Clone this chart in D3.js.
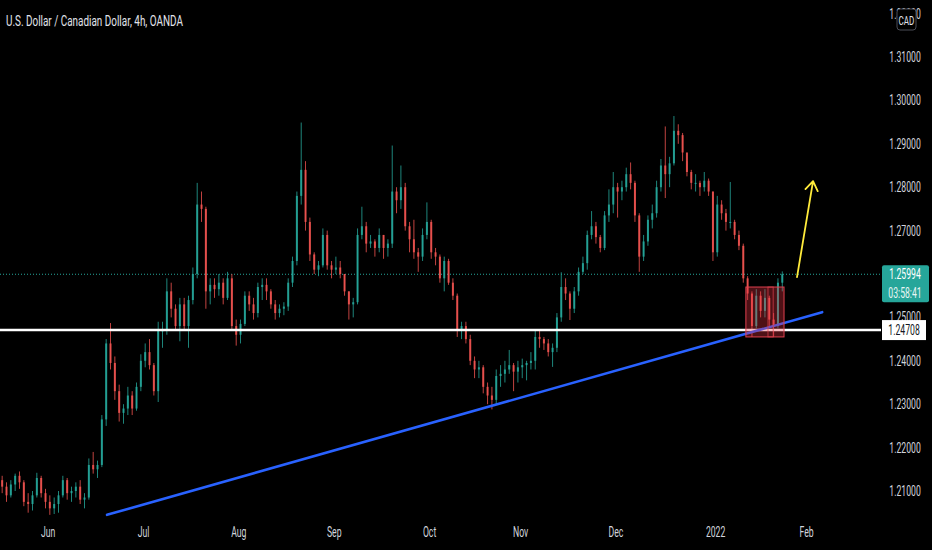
<!DOCTYPE html>
<html><head><meta charset="utf-8">
<script src="https://cdn.jsdelivr.net/npm/d3@7"></script>
<style>html,body{margin:0;padding:0;background:#000;overflow:hidden}svg{display:block}</style>
</head><body>
<svg id="c" width="932" height="550"></svg>
<script>
// ---- data (daily bars; index 0 = 17 May 2021) ----
const firstOpen = 1.2125;
const highs = [1.2135,1.2120,1.2125,1.2140,1.2145,1.2125,1.2095,1.2100,1.2142,1.2135,
1.2105,1.2090,1.2085,1.2100,1.2135,1.2130,1.2110,1.2120,1.2125,1.2095,
1.2175,1.2190,1.2170,1.2275,1.2450,1.2487,1.2410,1.2345,1.2300,1.2340,
1.2330,1.2350,1.2415,1.2440,1.2450,1.2395,1.2490,1.2490,1.2590,1.2580,
1.2530,1.2545,1.2545,1.2550,1.2615,1.2810,1.2790,1.2755,1.2590,1.2590,
1.2600,1.2590,1.2605,1.2600,1.2495,1.2495,1.2560,1.2560,1.2545,1.2580,
1.2590,1.2590,1.2565,1.2540,1.2530,1.2535,1.2590,1.2640,1.2790,1.2949,
1.2860,1.2730,1.2650,1.2630,1.2705,1.2700,1.2630,1.2640,1.2630,1.2600,
1.2560,1.2545,1.2705,1.2755,1.2720,1.2690,1.2680,1.2705,1.2690,1.2680,
1.2896,1.2800,1.2850,1.2810,1.2720,1.2725,1.2660,1.2705,1.2765,1.2725,
1.2660,1.2645,1.2640,1.2635,1.2590,1.2555,1.2490,1.2490,1.2460,1.2410,
1.2400,1.2390,1.2350,1.2340,1.2380,1.2390,1.2400,1.2425,1.2395,1.2400,
1.2405,1.2400,1.2420,1.2472,1.2470,1.2455,1.2450,1.2440,1.2510,1.2604,
1.2590,1.2560,1.2570,1.2615,1.2640,1.2700,1.2745,1.2720,1.2690,1.2745,
1.2795,1.2835,1.2810,1.2815,1.2845,1.2857,1.2815,1.2740,1.2690,1.2735,
1.2760,1.2815,1.2865,1.2940,1.2870,1.2964,1.2945,1.2925,1.2860,1.2840,
1.2830,1.2815,1.2835,1.2820,1.2790,1.2780,1.2770,1.2750,1.2812,1.2725,
1.2700,1.2670,1.2595,1.2560,1.2565,1.2560,1.2565,1.2550,1.2510,1.2590,
1.2606];
const lows = [1.2095,1.2075,1.2085,1.2100,1.2105,1.2065,1.2050,1.2055,1.2085,1.2085,
1.2060,1.2045,1.2047,1.2050,1.2085,1.2080,1.2075,1.2085,1.2070,1.2060,
1.2080,1.2140,1.2130,1.2155,1.2250,1.2380,1.2310,1.2260,1.2255,1.2275,
1.2275,1.2285,1.2330,1.2385,1.2380,1.2320,1.2305,1.2430,1.2460,1.2500,
1.2470,1.2445,1.2470,1.2430,1.2530,1.2590,1.2720,1.2520,1.2530,1.2545,
1.2550,1.2530,1.2540,1.2470,1.2435,1.2440,1.2480,1.2515,1.2495,1.2500,
1.2540,1.2540,1.2520,1.2495,1.2500,1.2505,1.2515,1.2570,1.2620,1.2760,
1.2700,1.2630,1.2600,1.2595,1.2615,1.2610,1.2590,1.2600,1.2590,1.2550,
1.2495,1.2500,1.2530,1.2680,1.2650,1.2660,1.2640,1.2650,1.2635,1.2640,
1.2660,1.2740,1.2750,1.2700,1.2650,1.2635,1.2605,1.2630,1.2680,1.2635,
1.2620,1.2580,1.2560,1.2575,1.2540,1.2455,1.2450,1.2440,1.2390,1.2360,
1.2360,1.2325,1.2300,1.2288,1.2300,1.2340,1.2350,1.2370,1.2330,1.2350,
1.2360,1.2355,1.2380,1.2380,1.2430,1.2425,1.2410,1.2386,1.2420,1.2490,
1.2540,1.2494,1.2510,1.2550,1.2600,1.2610,1.2680,1.2670,1.2650,1.2655,
1.2720,1.2740,1.2730,1.2770,1.2790,1.2795,1.2720,1.2605,1.2630,1.2665,
1.2705,1.2730,1.2790,1.2775,1.2800,1.2850,1.2900,1.2860,1.2825,1.2795,
1.2790,1.2780,1.2790,1.2780,1.2630,1.2640,1.2725,1.2700,1.2705,1.2680,
1.2655,1.2580,1.2540,1.2455,1.2475,1.2500,1.2500,1.2480,1.2455,1.2475,
1.2560];
const closes = [1.2110,1.2090,1.2115,1.2135,1.2120,1.2075,1.2070,1.2090,1.2130,1.2095,
1.2075,1.2060,1.2070,1.2090,1.2125,1.2095,1.2100,1.2110,1.2080,1.2085,
1.2160,1.2150,1.2160,1.2265,1.2440,1.2395,1.2330,1.2280,1.2290,1.2320,
1.2290,1.2340,1.2400,1.2420,1.2390,1.2330,1.2470,1.2470,1.2560,1.2520,
1.2480,1.2530,1.2480,1.2540,1.2600,1.2760,1.2750,1.2560,1.2575,1.2565,
1.2580,1.2545,1.2590,1.2480,1.2460,1.2485,1.2550,1.2530,1.2510,1.2570,
1.2575,1.2560,1.2530,1.2510,1.2520,1.2525,1.2580,1.2630,1.2780,1.2840,
1.2720,1.2645,1.2610,1.2620,1.2690,1.2620,1.2610,1.2615,1.2600,1.2560,
1.2530,1.2535,1.2690,1.2710,1.2670,1.2675,1.2660,1.2690,1.2660,1.2670,
1.2790,1.2770,1.2800,1.2710,1.2680,1.2650,1.2640,1.2690,1.2720,1.2650,
1.2640,1.2590,1.2630,1.2580,1.2550,1.2470,1.2480,1.2450,1.2400,1.2380,
1.2385,1.2340,1.2320,1.2310,1.2365,1.2370,1.2380,1.2390,1.2375,1.2385,
1.2390,1.2395,1.2400,1.2455,1.2450,1.2440,1.2420,1.2430,1.2500,1.2570,
1.2555,1.2520,1.2560,1.2605,1.2625,1.2690,1.2710,1.2685,1.2660,1.2735,
1.2760,1.2800,1.2790,1.2800,1.2830,1.2810,1.2735,1.2640,1.2675,1.2725,
1.2740,1.2800,1.2850,1.2830,1.2855,1.2930,1.2920,1.2880,1.2835,1.2810,
1.2810,1.2800,1.2815,1.2790,1.2650,1.2760,1.2740,1.2720,1.2720,1.2690,
1.2665,1.2590,1.2555,1.2480,1.2550,1.2515,1.2545,1.2495,1.2480,1.2580,
1.25994];
const monthTickIdx = [11,33,55,77,99,120,142,165,186];
const monthLabels = ["Jun","Jul","Aug","Sep","Oct","Nov","Dec","2022","Feb"];
const priceTicks = [1.21,1.22,1.23,1.24,1.25,1.26,1.27,1.28,1.29,1.30,1.31,1.32];
const supportLevel = 1.24708;
const lastPrice = 1.25994;
const countdown = "03:58:41";
const trendLine = [[24.7,1.2045],[189.7,1.2512]];
const zoneBox = {x0:172.1, x1:180.9, p0:1.2455, p1:1.2570, mid0:177.2, mid1:178.4};
const arrowLine = [[183.9,1.2593],[187.6,1.2814]];
const title = "U.S. Dollar / Canadian Dollar, 4h, OANDA";

// ---- build ----
const svg = d3.select("#c");
const W = 932, H = 550, plotRight = 881;
const x = d3.scaleLinear().domain([0, 201.2]).range([0, 872]);
const y = d3.scaleLinear().domain([1.21, 1.31]).range([491, 57]);
const bars = closes.map((c,i)=>({i, o: i===0?firstOpen:closes[i-1], h:highs[i], l:lows[i], c}));
const UP="#26a69a", DN="#ef5350";
const FONT = "Roboto, 'Noto Sans', sans-serif";
const SQ = 0.62;
// horizontal condensing through a transform (keeps real text)
function squeeze(sel,f){ sel.each(function(){
  const t=d3.select(this); const xx=+t.attr("x")||0, yy=+t.attr("y")||0;
  t.attr("x",0).attr("y",0).attr("transform",`translate(${xx},${yy}) scale(${f||SQ},1)`); }); }

svg.append("rect").attr("width",W).attr("height",H).attr("fill","#000");

const plot = svg.append("g");
plot.append("clipPath").attr("id","pc").append("rect").attr("width",plotRight).attr("height",520);
const pg = plot.append("g").attr("clip-path","url(#pc)");

// last price dotted line
pg.append("line").attr("x1",0).attr("x2",plotRight).attr("y1",y(lastPrice)).attr("y2",y(lastPrice))
  .attr("stroke","#26a69a").attr("stroke-width",1).attr("stroke-dasharray","1,2");

// candles
const cg = pg.append("g");
const bw = 2;
cg.selectAll("line.w").data(bars).join("line").attr("class","w")
  .attr("x1",d=>x(d.i+0.5)).attr("x2",d=>x(d.i+0.5))
  .attr("y1",d=>y(d.h)).attr("y2",d=>y(d.l))
  .attr("stroke",d=>d.c>=d.o?UP:DN).attr("stroke-width",0.9).attr("opacity",0.9);
cg.selectAll("rect.b").data(bars).join("rect").attr("class","b")
  .attr("x",d=>x(d.i+0.5)-bw/2).attr("width",bw)
  .attr("y",d=>y(Math.max(d.o,d.c)))
  .attr("height",d=>Math.max(1,Math.abs(y(d.o)-y(d.c))))
  .attr("fill",d=>d.c>=d.o?UP:DN).attr("opacity",0.9);

// support line
pg.append("line").attr("x1",0).attr("x2",plotRight).attr("y1",y(supportLevel)).attr("y2",y(supportLevel))
  .attr("stroke","#ffffff").attr("stroke-width",2.6);

// trend line
pg.append("line").attr("x1",x(trendLine[0][0])).attr("y1",y(trendLine[0][1]))
  .attr("x2",x(trendLine[1][0])).attr("y2",y(trendLine[1][1]))
  .attr("stroke","#2962ff").attr("stroke-width",2.6).attr("stroke-linecap","round");

// zone box
pg.append("rect").attr("x",x(zoneBox.x0)).attr("width",x(zoneBox.x1)-x(zoneBox.x0))
  .attr("y",y(zoneBox.p1)).attr("height",y(zoneBox.p0)-y(zoneBox.p1))
  .attr("fill","rgba(242,54,69,0.32)").attr("stroke","#e0414f").attr("stroke-width",1);
pg.append("rect").attr("x",x(zoneBox.mid0)).attr("width",x(zoneBox.mid1)-x(zoneBox.mid0))
  .attr("y",y(zoneBox.p1)).attr("height",y(zoneBox.p0)-y(zoneBox.p1))
  .attr("fill","none").attr("stroke","rgba(224,65,79,0.7)").attr("stroke-width",1);

// yellow arrow
const ax0=x(arrowLine[0][0]), ay0=y(arrowLine[0][1]), ax1=x(arrowLine[1][0]), ay1=y(arrowLine[1][1]);
const ang=Math.atan2(ay1-ay0, ax1-ax0), hl=11, ha=0.6;
pg.append("path")
  .attr("d",`M${ax0},${ay0}L${ax1},${ay1}M${ax1-hl*Math.cos(ang-ha)},${ay1-hl*Math.sin(ang-ha)}L${ax1},${ay1}L${ax1-hl*Math.cos(ang+ha)},${ay1-hl*Math.sin(ang+ha)}`)
  .attr("fill","none").attr("stroke","#ffeb3b").attr("stroke-width",1.8).attr("stroke-linecap","round").attr("stroke-linejoin","round");

// time axis
const xa = svg.append("g").attr("transform","translate(0,527)")
  .call(d3.axisBottom(x).tickValues(monthTickIdx).tickSize(0).tickPadding(0)
    .tickFormat((d,k)=>monthLabels[k]));
xa.select(".domain").remove();
xa.selectAll("text").attr("fill","#d1d4dc").attr("font-family",FONT).attr("font-size",14).attr("dy","0.71em");
squeeze(xa.selectAll("text"));

// price axis
const ya = svg.append("g").attr("transform","translate(905,0)")
  .call(d3.axisRight(y).tickValues(priceTicks).tickSize(0).tickPadding(0).tickFormat(d3.format(".5f")));
ya.select(".domain").remove();
ya.selectAll("text").attr("fill","#d1d4dc").attr("font-family",FONT).attr("font-size",14).attr("text-anchor","middle");
squeeze(ya.selectAll("text"));

// last price label
const lp = svg.append("g");
lp.append("rect").attr("x",882).attr("y",y(lastPrice)-9).attr("width",47).attr("height",37).attr("rx",2).attr("fill","#26a69a");
lp.append("text").attr("x",905).attr("y",y(lastPrice)).attr("dy","0.35em").attr("text-anchor","middle")
  .attr("fill","#ffffff").attr("font-family",FONT).attr("font-size",14).text(d3.format(".5f")(lastPrice));
lp.append("text").attr("x",905).attr("y",y(lastPrice)+19).attr("dy","0.35em").attr("text-anchor","middle")
  .attr("fill","#e8f5f3").attr("font-family",FONT).attr("font-size",14).text(countdown);
squeeze(lp.selectAll("text"));

// support label
const sl = svg.append("g");
sl.append("rect").attr("x",882).attr("y",y(supportLevel)-10).attr("width",44).attr("height",20).attr("fill","#ffffff");
sl.append("text").attr("x",904).attr("y",y(supportLevel)).attr("dy","0.35em").attr("text-anchor","middle")
  .attr("fill","#131722").attr("font-family",FONT).attr("font-size",14).text(d3.format(".5f")(supportLevel));
squeeze(sl.selectAll("text"));

// CAD badge
const cb = svg.append("g");
cb.append("rect").attr("x",897).attr("y",9).attr("width",19).attr("height",21).attr("rx",3)
  .attr("fill","#000").attr("stroke","#4a4d57").attr("stroke-width",1);
cb.append("text").attr("x",906.5).attr("y",20).attr("dy","0.35em").attr("text-anchor","middle")
  .attr("fill","#e0e3eb").attr("font-family",FONT).attr("font-size",13).text("CAD");
squeeze(cb.selectAll("text"));

// title
const tt = svg.append("text").attr("x",6).attr("y",26).attr("fill","#e0e3eb")
  .attr("font-family",FONT).attr("font-size",14).text(title);
const tw = tt.node().getComputedTextLength();
squeeze(tt, 177/tw);
</script>
</body></html>
